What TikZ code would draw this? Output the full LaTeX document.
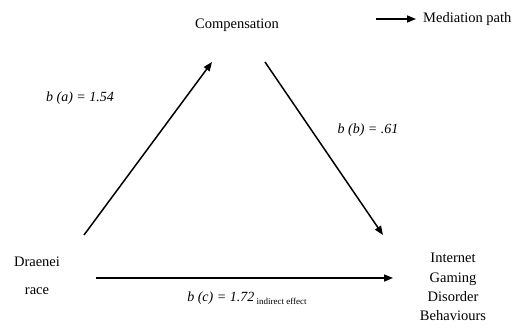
\documentclass[tikz,border=0pt]{standalone}
\usepackage{fontspec}
\setmainfont{Liberation Serif}
\usetikzlibrary{arrows.meta, positioning}

\begin{document}
\begin{tikzpicture}[
    x=1pt, y=-1pt,
    var/.style={font=\fontsize{14.5}{19.3}\selectfont, align=center, inner sep=0pt},
    coef/.style={font=\fontsize{14}{17}\selectfont\itshape, inner sep=0pt},
    med/.style={line width=1.5pt, -{Triangle[length=9pt, width=7pt]}}
]
\useasboundingbox (0,0) rectangle (522,329);

\node[var] (comp) at (237,25) {Compensation};
\node[var] (race) at (37,276) {Draenei\\[9pt]race};
\node[var] (igd) at (453,287) {Internet\\Gaming\\Disorder\\Behaviours};

% arrow ends
\coordinate (a0) at (84,235);
\coordinate (a1) at (212,62);
\coordinate (b0) at (265,62);
\coordinate (b1) at (383,235);
\coordinate (c0) at (96,278);
\coordinate (c1) at (393,278);

\draw[med] (a0) -- (a1);
\draw[med] (b0) -- (b1);
\draw[med] (c0) -- (c1);

\node[coef] (coefa) at (80,98) {b (a) = 1.54};
\node[coef] (coefb) at (368,130) {b (b) = .61};
\node[coef] (coefc) at (247,298) {b (c) = 1.72\,\raisebox{-3pt}{\upshape\fontsize{9}{10}\selectfont indirect effect}};

% legend
\coordinate (leg0) at (376,19);
\coordinate (leg1) at (416,19);
\draw[med] (leg0) -- (leg1);
\node[var, anchor=west, right=7pt of leg1] (legtxt) {Mediation path};

\end{tikzpicture}
\end{document}
